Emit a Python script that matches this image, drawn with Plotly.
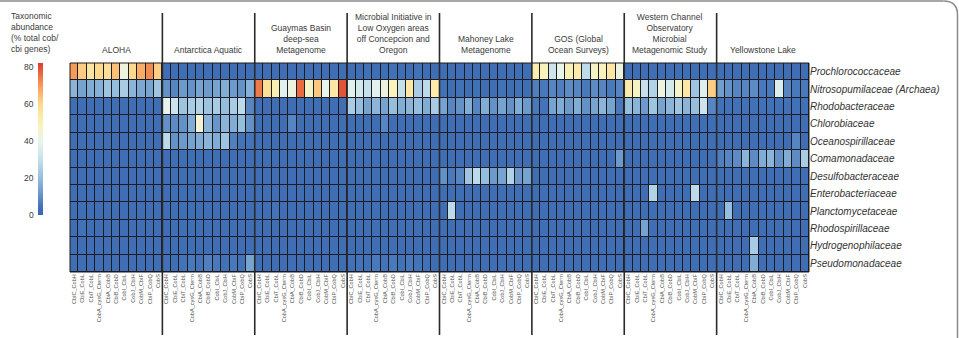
import plotly.graph_objects as go

groups = ["ALOHA", "Antarctica Aquatic", "Guaymas Basin<br>deep-sea<br>Metagenome",
          "Microbial Initiative in<br>Low Oxygen areas<br>off Concepcion and<br>Oregon",
          "Mahoney Lake<br>Metagenome", "GOS (Global<br>Ocean Surveys)",
          "Western Channel<br>Observatory<br>Microbial<br>Metagenomic Study",
          "Yellowstone Lake"]
genes = ["CbiC_CobH", "CbiE_CobL", "CbiT_CobL", "CobA_cysG_Cterm", "CbiA_CobB", "CbiB_CobD",
         "CobI_CbiL", "CobJ_CbiH", "CobM_CbiF", "CbiP_CobQ", "CobS"]
families = ["Prochlorococcaceae", "Nitrosopumilaceae (Archaea)", "Rhodobacteraceae",
            "Chlorobiaceae", "Oceanospirillaceae", "Comamonadaceae", "Desulfobacteraceae",
            "Enterobacteriaceae", "Planctomycetaceae", "Rhodospirillaceae",
            "Hydrogenophilaceae", "Pseudomonadaceae"]

# values per family, 8 groups x 11 genes (ALOHA, Antarctica, Guaymas, MI, Mahoney, GOS, WCO, Yellowstone)
prochlorococcaceae = [70, 62, 55, 60, 57, 64, 42, 60, 67, 72, 62,
                      3, 3, 3, 3, 3, 3, 3, 3, 3, 3, 3,
                      3, 3, 3, 3, 3, 3, 3, 3, 3, 3, 3,
                      3, 3, 4, 3, 3, 4, 3, 3, 4, 3, 3,
                      3, 3, 3, 3, 3, 3, 3, 3, 3, 3, 3,
                      52, 48, 32, 40, 50, 52, 28, 47, 48, 54, 42,
                      3, 3, 3, 3, 3, 3, 3, 3, 3, 3, 3,
                      3, 3, 3, 3, 3, 3, 3, 3, 3, 3, 3]
nitrosopumilaceae = [18, 14, 16, 17, 22, 20, 24, 18, 15, 14, 22,
                     10, 8, 12, 10, 14, 12, 14, 16, 12, 10, 17,
                     74, 58, 50, 38, 42, 76, 46, 63, 40, 54, 79,
                     38, 34, 30, 38, 42, 48, 30, 54, 24, 28, 52,
                     4, 3, 4, 3, 4, 3, 3, 4, 3, 4, 3,
                     7, 6, 8, 7, 9, 8, 6, 9, 8, 6, 8,
                     52, 47, 30, 26, 42, 34, 46, 54, 22, 37, 62,
                     13, 10, 8, 8, 9, 6, 6, 36, 8, 6, 6]
rhodobacteraceae = [3, 3, 3, 3, 3, 3, 3, 3, 3, 3, 3,
                    40, 32, 22, 24, 26, 22, 24, 20, 24, 28, 8,
                    3, 3, 3, 3, 3, 3, 3, 3, 3, 3, 3,
                    24, 20, 14, 18, 14, 20, 16, 18, 20, 16, 24,
                    14, 8, 10, 16, 8, 16, 10, 14, 10, 16, 12,
                    6, 5, 14, 16, 12, 16, 10, 14, 18, 14, 6,
                    20, 18, 12, 22, 14, 18, 22, 18, 20, 32, 8,
                    4, 4, 4, 4, 4, 4, 4, 4, 4, 4, 4]
chlorobiaceae = [3, 3, 3, 3, 3, 3, 3, 3, 3, 3, 3,
                 10, 9, 10, 16, 44, 18, 11, 18, 16, 20, 10,
                 3, 3, 3, 3, 8, 3, 3, 3, 3, 3, 3,
                 3, 3, 3, 3, 8, 3, 3, 3, 3, 3, 3,
                 3, 3, 3, 3, 3, 3, 3, 3, 3, 3, 3,
                 3, 3, 3, 3, 3, 3, 3, 3, 3, 3, 3,
                 3, 3, 3, 3, 3, 3, 3, 3, 3, 3, 3,
                 3, 3, 3, 3, 3, 3, 3, 3, 3, 3, 3]
oceanospirillaceae = [3, 3, 3, 3, 3, 3, 3, 3, 3, 3, 3,
                      28, 10, 12, 14, 16, 18, 16, 22, 7, 5, 5,
                      3, 3, 3, 3, 3, 3, 3, 3, 3, 3, 3,
                      3, 3, 3, 3, 3, 3, 3, 3, 3, 3, 3,
                      3, 3, 3, 3, 3, 3, 3, 3, 3, 3, 3,
                      3, 3, 3, 3, 3, 3, 3, 3, 3, 3, 3,
                      3, 3, 3, 3, 3, 3, 3, 3, 3, 3, 3,
                      3, 3, 3, 3, 3, 3, 3, 3, 3, 8, 3]
comamonadaceae = [3, 3, 3, 3, 3, 3, 3, 3, 3, 3, 3,
                  3, 3, 3, 3, 3, 3, 3, 3, 3, 3, 3,
                  3, 3, 3, 3, 3, 3, 3, 3, 3, 3, 3,
                  3, 3, 3, 3, 3, 3, 3, 3, 3, 3, 3,
                  3, 3, 3, 3, 3, 3, 3, 3, 3, 3, 3,
                  3, 3, 3, 3, 3, 3, 3, 3, 3, 3, 12,
                  3, 3, 3, 3, 3, 3, 3, 3, 3, 3, 3,
                  7, 8, 9, 18, 9, 16, 18, 10, 16, 9, 24]
desulfobacteraceae = [3, 3, 3, 3, 3, 3, 3, 3, 3, 3, 3,
                      3, 3, 3, 3, 3, 3, 3, 3, 3, 3, 3,
                      3, 3, 3, 3, 3, 3, 3, 3, 3, 3, 3,
                      3, 3, 3, 3, 3, 3, 3, 3, 3, 3, 3,
                      10, 6, 8, 22, 28, 20, 12, 14, 26, 12, 14,
                      3, 3, 3, 3, 3, 3, 3, 3, 3, 3, 3,
                      3, 3, 3, 3, 3, 3, 3, 3, 3, 3, 3,
                      3, 3, 3, 3, 3, 3, 3, 3, 3, 3, 3]
enterobacteriaceae = [3, 3, 3, 3, 3, 3, 3, 3, 3, 3, 3,
                      3, 3, 3, 3, 3, 3, 3, 3, 3, 3, 3,
                      3, 3, 3, 3, 3, 3, 3, 3, 3, 3, 3,
                      3, 3, 3, 3, 3, 3, 3, 3, 3, 3, 3,
                      3, 3, 3, 3, 3, 3, 3, 3, 3, 3, 3,
                      3, 3, 3, 3, 3, 3, 3, 3, 3, 3, 3,
                      3, 3, 3, 26, 3, 3, 3, 3, 28, 3, 3,
                      3, 3, 3, 3, 3, 3, 3, 3, 3, 3, 3]
planctomycetaceae = [3, 3, 3, 3, 3, 3, 3, 3, 3, 3, 3,
                     3, 3, 3, 3, 3, 3, 3, 3, 3, 3, 3,
                     3, 3, 5, 3, 3, 3, 3, 3, 3, 3, 3,
                     3, 3, 3, 3, 3, 3, 3, 3, 3, 3, 3,
                     3, 28, 3, 3, 3, 3, 3, 3, 3, 3, 3,
                     3, 3, 3, 3, 3, 3, 3, 3, 3, 3, 3,
                     3, 3, 3, 3, 3, 3, 3, 3, 3, 3, 3,
                     3, 20, 3, 3, 3, 3, 3, 3, 3, 3, 3]
rhodospirillaceae = [3, 4, 3, 3, 3, 3, 3, 3, 3, 3, 3,
                     3, 3, 3, 3, 3, 3, 3, 3, 3, 3, 3,
                     3, 3, 3, 3, 3, 3, 3, 3, 3, 3, 3,
                     3, 3, 3, 3, 3, 3, 3, 3, 3, 3, 3,
                     3, 3, 3, 3, 3, 3, 3, 3, 3, 3, 3,
                     3, 3, 3, 3, 3, 3, 3, 3, 3, 3, 3,
                     3, 3, 14, 3, 3, 3, 3, 3, 3, 3, 3,
                     3, 3, 3, 3, 3, 3, 3, 3, 3, 3, 3]
hydrogenophilaceae = [3, 3, 3, 3, 3, 3, 3, 3, 3, 3, 3,
                      3, 3, 3, 3, 3, 3, 3, 3, 3, 3, 3,
                      3, 3, 3, 3, 3, 3, 3, 3, 3, 3, 3,
                      3, 3, 3, 3, 3, 3, 3, 3, 3, 3, 3,
                      3, 3, 3, 3, 3, 3, 3, 3, 3, 3, 3,
                      3, 3, 3, 3, 3, 3, 3, 3, 3, 3, 3,
                      3, 3, 3, 3, 3, 3, 3, 3, 3, 3, 3,
                      3, 3, 3, 3, 24, 3, 3, 3, 3, 3, 3]
pseudomonadaceae = [3, 3, 3, 3, 3, 3, 3, 3, 3, 3, 3,
                    4, 3, 5, 6, 5, 7, 6, 4, 6, 5, 14,
                    3, 3, 3, 3, 3, 3, 3, 3, 3, 3, 3,
                    4, 5, 4, 6, 5, 6, 4, 6, 5, 4, 3,
                    3, 3, 3, 3, 3, 3, 3, 3, 3, 3, 3,
                    3, 3, 3, 3, 3, 3, 3, 3, 3, 3, 3,
                    3, 3, 3, 3, 3, 3, 3, 3, 3, 3, 3,
                    3, 3, 3, 3, 16, 3, 3, 3, 3, 3, 3]

z = [prochlorococcaceae, nitrosopumilaceae, rhodobacteraceae, chlorobiaceae,
     oceanospirillaceae, comamonadaceae, desulfobacteraceae, enterobacteriaceae,
     planctomycetaceae, rhodospirillaceae, hydrogenophilaceae, pseudomonadaceae]

cbar_ticks = [0, 20, 40, 60, 80]
ZMAX = 82

ng = len(groups)
nc = len(genes)
xvals = list(range(ng * nc))
xtext = genes * ng

colorscale = [
    [0.0, "#3a67b0"], [0.06, "#4373b8"], [0.12, "#6390c6"], [0.24, "#93bcdc"],
    [0.36, "#c4dfeb"], [0.48, "#e8f4ee"], [0.6, "#fbf2b6"], [0.73, "#fdda8e"],
    [0.85, "#f89c58"], [1.0, "#dc3b2e"],
]

FONT = "Liberation Sans, Arial, sans-serif"

W, H = 959, 338
ML, MR, MT, MB = 70, 150, 63, 66
pw, ph = W - ML - MR, H - MT - MB

def px2paper_x(px):
    return (px - ML) / pw

def px2paper_y(py):
    return (H - MB - py) / ph

cb_top, cb_len = 63, 152

fig = go.Figure()
fig.add_trace(go.Heatmap(
    z=z, x=xvals, y=list(range(len(families))),
    zmin=0, zmax=ZMAX, colorscale=colorscale,
    xgap=1, ygap=1,
    colorbar=dict(
        thickness=5, len=cb_len, lenmode="pixels",
        x=px2paper_x(38), xanchor="left", xpad=0,
        y=px2paper_y(cb_top), yanchor="top", ypad=0,
        outlinewidth=0, showticklabels=False, ticks="",
    ),
))

shapes = []
# group separators
for g in range(1, ng):
    xb = g * nc - 0.5
    shapes.append(dict(type="line", xref="x", yref="paper", x0=xb, x1=xb,
                       y0=px2paper_y(335), y1=px2paper_y(13),
                       line=dict(color="#2a2a2a", width=1.6)))
# heatmap outline
shapes.append(dict(type="rect", xref="paper", yref="paper", x0=0, x1=1, y0=0, y1=1,
                   line=dict(color="#1a1a1a", width=1)))
# outer frame (rounded top-right corner)
FR = 957.5
x0p, x1p, xcp = px2paper_x(0), px2paper_x(FR), px2paper_x(FR - 14)
y0p, ycp, ybp = px2paper_y(1), px2paper_y(15), px2paper_y(340)
shapes.append(dict(type="line", xref="paper", yref="paper", x0=x0p, x1=xcp, y0=y0p, y1=y0p,
                   line=dict(color="#8a8a8a", width=1.5)))
shapes.append(dict(type="line", xref="paper", yref="paper", x0=x1p, x1=x1p, y0=ycp, y1=ybp,
                   line=dict(color="#8a8a8a", width=1.5)))
shapes.append(dict(type="path", xref="paper", yref="paper",
                   path=f"M {xcp},{y0p} Q {x1p},{y0p} {x1p},{ycp}",
                   line=dict(color="#8a8a8a", width=1.5)))

annotations = []
for g, name in enumerate(groups):
    annotations.append(dict(x=g * nc + (nc - 1) / 2, xref="x", y=px2paper_y(57), yref="paper",
                            text=name, showarrow=False, xanchor="center", yanchor="bottom",
                            font=dict(family=FONT, size=8.5, color="#3a3a3a")))
# colorbar title
annotations.append(dict(x=px2paper_x(9), xref="paper", y=px2paper_y(9), yref="paper",
                        text="Taxonomic<br>abundance<br>(% total cob/<br>cbi genes)",
                        showarrow=False, xanchor="left", yanchor="top", align="left",
                        font=dict(family=FONT, size=8.5, color="#3a3a3a")))
# colorbar tick labels (left side)
for t in cbar_ticks:
    py = cb_top + cb_len * (1 - t / ZMAX)
    annotations.append(dict(x=px2paper_x(36), xref="paper", y=px2paper_y(py), yref="paper",
                            text=str(t), showarrow=False, xanchor="right", yanchor="middle",
                            font=dict(family=FONT, size=8.5, color="#3a3a3a")))

fig.update_layout(
    width=W, height=H,
    margin=dict(l=ML, r=MR, t=MT, b=MB),
    paper_bgcolor="white", plot_bgcolor="#1c1c24",
    shapes=shapes, annotations=annotations,
    font=dict(family=FONT),
    xaxis=dict(tickvals=xvals, ticktext=xtext, tickangle=-90, ticks="",
               tickfont=dict(family=FONT, size=5.6, color="#555"),
               showgrid=False, zeroline=False, range=[-0.5, ng * nc - 0.5],
               automargin=False),
    yaxis=dict(tickvals=list(range(len(families))),
               ticktext=[f"<i>{f}</i>" for f in families],
               side="right", ticks="", autorange="reversed",
               tickfont=dict(family=FONT, size=10, color="#333"),
               showgrid=False, zeroline=False, automargin=False),
)

fig.write_html("out.html")
